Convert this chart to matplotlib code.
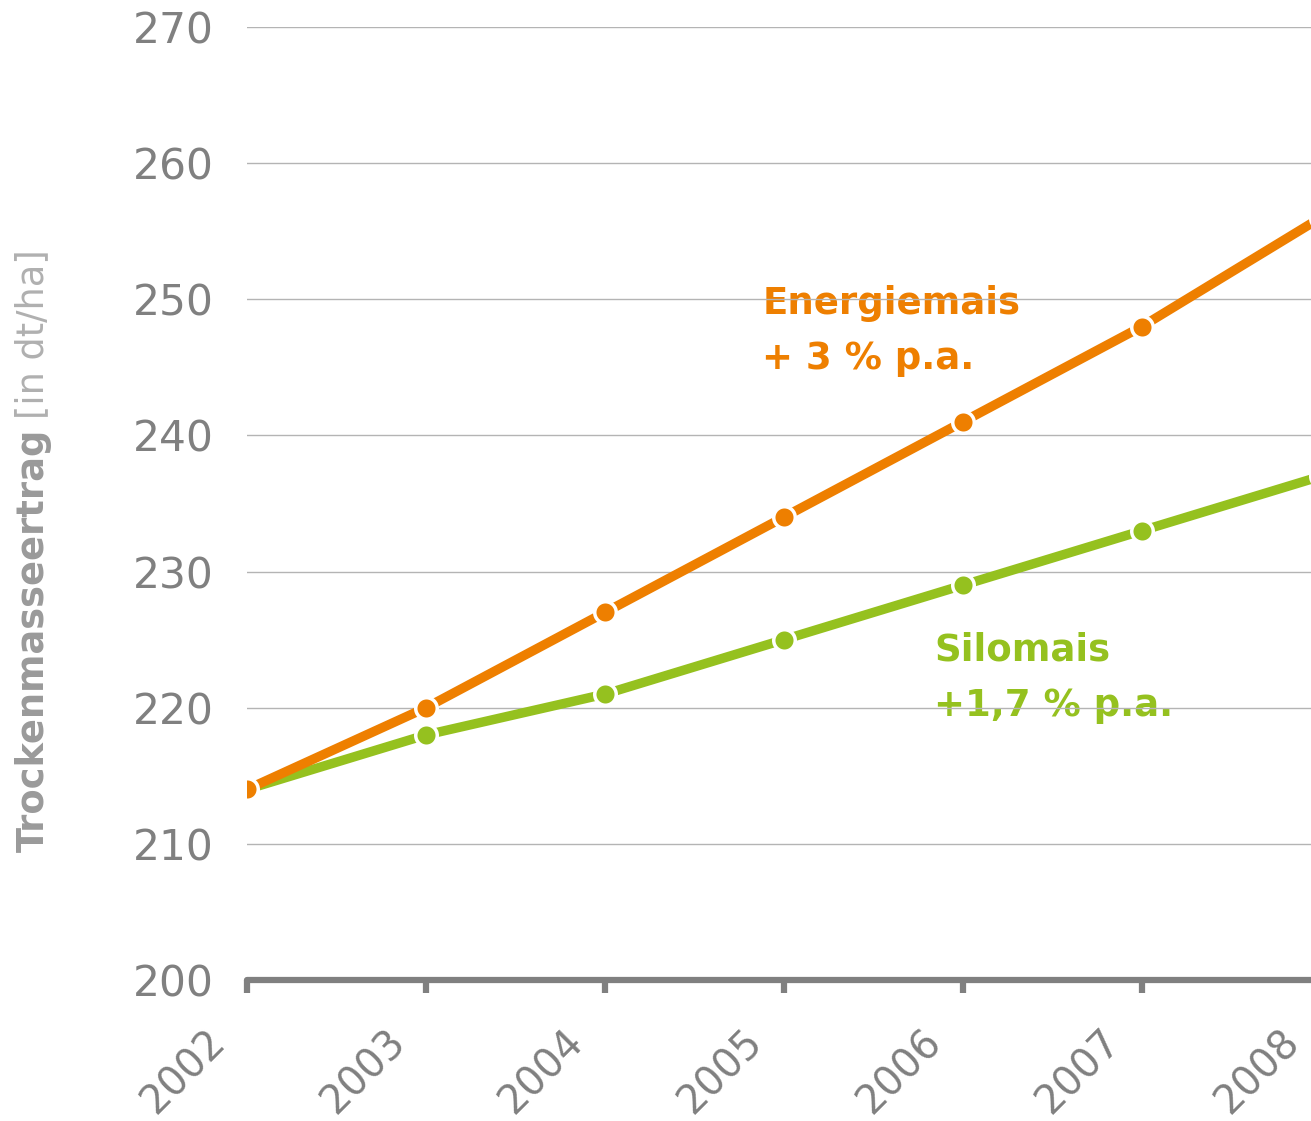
import matplotlib
matplotlib.use("Agg")
import matplotlib.pyplot as plt
import matplotlib.transforms as mtransforms

years = [2002, 2003, 2004, 2005, 2006, 2007, 2008]
energiemais = [214, 220, 227, 234, 241, 248, 256]
silomais = [214, 218, 221, 225, 229, 233, 237]
y_ticks = [200, 210, 220, 230, 240, 250, 260, 270]
year_labels = [str(y) for y in years]

ORANGE = "#EE7F00"
GREY = "#808080"
GREEN = "#95C11F"

plt.rcParams["font.family"] = ["DejaVu Sans"]

W, H = 1311, 1121
fig = plt.figure(figsize=(W / 100, H / 100), dpi=100)
ax = fig.add_axes([247 / W, 1 - 980 / H, 1 - 247 / W, (980 - 27) / H])

ax.set_yticks(y_ticks)
ax.set_xticks(years)
ax.set_xticklabels([])
# the last year sits just past the right edge of the figure
ax.set_xlim(years[0], years[-1] - 0.055)
ax.set_ylim(200, 270)

for v in y_ticks[1:]:
    ax.axhline(v, color="#b4b4b4", lw=1.0, zorder=2)

for vals, col in ((silomais, GREEN), (energiemais, ORANGE)):
    ax.plot(years, vals, color=col, lw=6.8, marker="o", markersize=15.5,
            markerfacecolor=col, markeredgecolor="white", markeredgewidth=2.5,
            zorder=4, solid_capstyle="round")

for s in ("top", "right", "left"):
    ax.spines[s].set_visible(False)
ax.spines["bottom"].set_color(GREY)
ax.spines["bottom"].set_linewidth(4.5)
ax.spines["bottom"].set_capstyle("round")
ax.spines["bottom"].set_zorder(5)

ax.tick_params(axis="y", length=0, pad=24, labelsize=30.5, labelcolor=GREY)
ax.tick_params(axis="x", direction="out", length=9, width=4.5, color=GREY)

# rotated year labels, one per year (including the one past the edge)
xlab_tf = mtransforms.blended_transform_factory(ax.transData, ax.transAxes)
year_texts = [
    ax.text(y, 0, lab, transform=xlab_tf, rotation=45, ha="right", va="top",
            rotation_mode="anchor", fontsize=28.5, color=GREY, clip_on=False)
    for y, lab in zip(years, year_labels)
]

ax.text(2004.88, 248.9, "Energiemais", color=ORANGE, fontsize=26.7,
        fontweight="bold", zorder=1)
ax.text(2004.88, 244.85, "+ 3 % p.a.", color=ORANGE, fontsize=26.7,
        fontweight="bold", zorder=1)
ax.text(2005.84, 223.45, "Silomais", color=GREEN, fontsize=26.7,
        fontweight="bold", zorder=1)
ax.text(2005.84, 219.4, "+1,7 % p.a.", color=GREEN, fontsize=26.7,
        fontweight="bold", zorder=1)

# axis title: bold quantity followed by the lighter unit
t1 = fig.text(33 / W, 1 - 852 / H, "Trockenmasseertrag", rotation=90,
              ha="center", va="bottom", fontsize=26.5, fontweight="bold",
              color="#9a9a9a")
fig.canvas.draw()
bb = t1.get_window_extent()
fig.text(33 / W, (bb.y1 + 10) / H, "[in dt/ha]", rotation=90,
         ha="center", va="bottom", fontsize=26.5, color="#b0b0b0")

# slide the year labels so they sit just left of and below each tick
lb = year_texts[0].get_window_extent()
tick_px = ax.transData.transform((years[0], 200))[0]
dx = (tick_px - 13) - lb.x1
dy = (H - 1022) - lb.y1
shift = mtransforms.ScaledTranslation(dx / 100, dy / 100, fig.dpi_scale_trans)
for t in year_texts:
    t.set_transform(xlab_tf + shift)

fig.savefig("out.png", dpi=100, facecolor="white")
